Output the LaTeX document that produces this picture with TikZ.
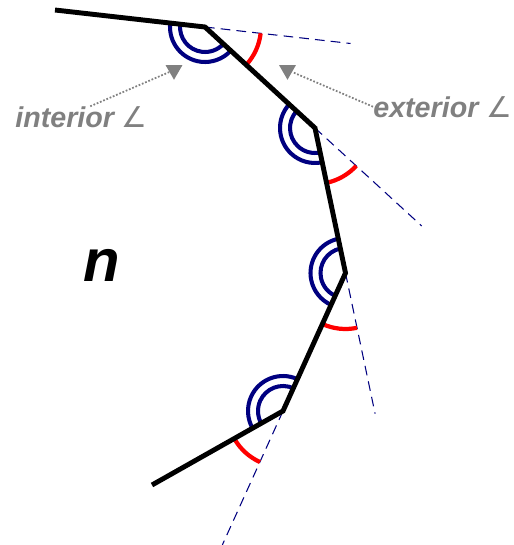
\documentclass[tikz,border=0pt]{standalone}
\usepackage{fontspec}
\setmainfont{Liberation Sans}
\newfontfamily\symfont{DejaVu Sans}
\usepackage{tikz}
\usetikzlibrary{calc, angles, shapes.geometric}
\definecolor{chainNavy}{RGB}{0,0,128}
\definecolor{extRed}{RGB}{255,0,0}
\definecolor{labelGrey}{RGB}{128,128,128}

\begin{document}
\begin{tikzpicture}[x=0.02cm, y=0.02cm,
  chain/.style={line width=2.8pt},
  extension/.style={chainNavy, line width=0.6pt, dash pattern=on 5.5pt off 3.5pt},
  pointer/.style={labelGrey, line width=1pt, densely dotted},
  tipMark/.style={regular polygon, regular polygon sides=3, shape border rotate=180,
    fill=labelGrey, inner sep=0pt, minimum size=0.39cm},
  angleLabel/.style={labelGrey, anchor=base west, inner sep=0pt,
    font=\fontsize{16.3}{19}\selectfont\bfseries\itshape}]
\useasboundingbox (0,0) rectangle (514,-545);

% Vertices of the chain
\coordinate (P0) at (55,-10);
\coordinate (P1) at (205,-27);
\coordinate (P2) at (315,-128);
\coordinate (P3) at (345.5,-273);
\coordinate (P4) at (283,-411);
\coordinate (P5) at (152,-485);

% Extended sides
\foreach \a/\b/\e in {P0/P1/D1, P1/P2/D2, P2/P3/D3, P3/P4/D4} {
  \coordinate (\e) at ($(\a)!1.97!(\b)$);
  \draw[extension] (\b) -- (\e);
}

% Interior and exterior angles
\foreach \a/\b/\c/\e in {P0/P1/P2/D1, P1/P2/P3/D2, P2/P3/P4/D3, P3/P4/P5/D4} {
  \pic[draw=chainNavy, line width=2.3pt, angle radius=0.5cm] {angle=\a--\b--\c};
  \pic[draw=chainNavy, line width=2.3pt, angle radius=0.7cm] {angle=\a--\b--\c};
  \pic[draw=extRed, line width=2.4pt, angle radius=1.12cm] {angle=\c--\b--\e};
}

% Chain
\draw[chain] (P0) -- (P1) -- (P2) -- (P3) -- (P4) -- (P5);

% Labels
\node[angleLabel] (intLabel) at (15,-127.5) {interior {\symfont\mdseries\upshape ∠}};
\node[angleLabel] (extLabel) at (373,-117) {exterior {\symfont\mdseries\upshape ∠}};
\node[tipMark] (intTip) at (174,-70) {};
\node[tipMark] (extTip) at (287.5,-70) {};
\draw[pointer] ([xshift=5]intLabel.north) -- (intTip);
\draw[pointer] (extLabel.west) -- (extTip);

\node[anchor=base, inner sep=0pt, font=\fontsize{34}{40}\selectfont\bfseries\itshape] (nLabel) at (102,-281.5) {n};
\end{tikzpicture}
\end{document}
